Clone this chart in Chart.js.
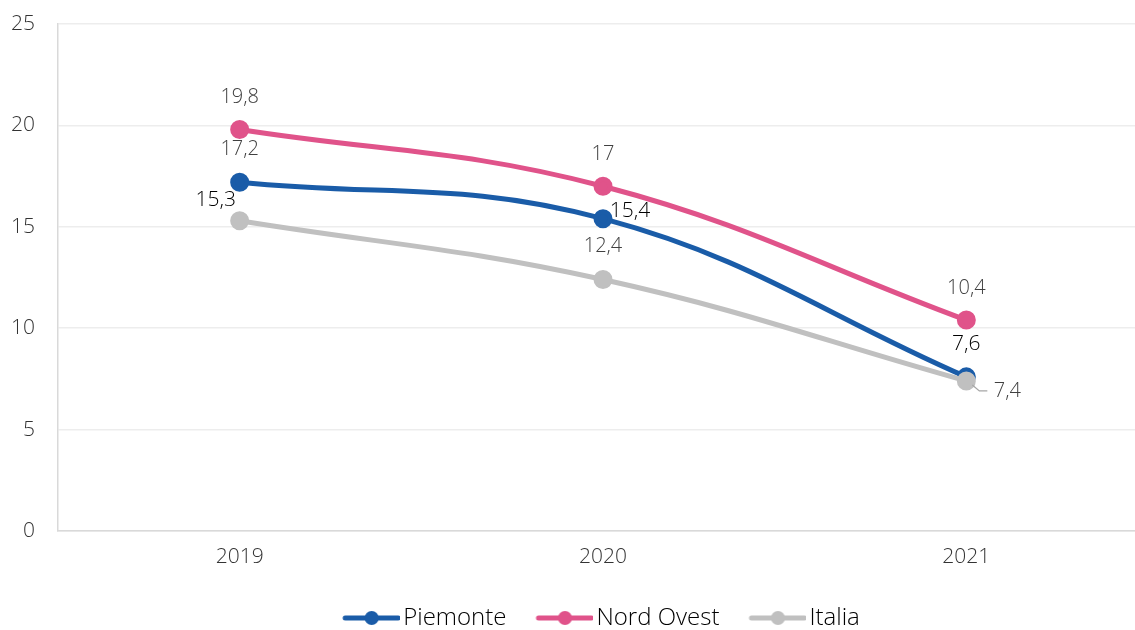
<!DOCTYPE html>
<html>
<head>
<meta charset="utf-8">
<script src="https://cdn.jsdelivr.net/npm/chart.js@4"></script>
<style>
  html, body { margin: 0; padding: 0; background: #fff; overflow: hidden; }
  #wrap { position: relative; width: 1200px; height: 630px; }
</style>
</head>
<body>
<div id="wrap"><canvas id="lineChart"></canvas></div>
<script>
const years = ["2019", "2020", "2021"];
const piemonte = [17.2, 15.4, 7.6];
const nordOvest = [19.8, 17, 10.4];
const italia = [15.3, 12.4, 7.4];
const yTicks = [0, 5, 10, 15, 20, 25];

// label placement per series/point: [dx, dy]
const labelPos = {
  "Piemonte":   [[0, -33], [27, -8], [0, -33]],
  "Nord Ovest": [[0, -32], [0, -32], [0, -32]],
  "Italia":     [[-24, -21], [0, -33], [41, 10]]
};
// manually placed labels are darker and a touch larger
const labelColor = {
  "Piemonte":   ["#404040", "#000", "#000"],
  "Nord Ovest": ["#404040", "#404040", "#404040"],
  "Italia":     ["#000", "#404040", "#404040"]
};

const FONT = "'Open Sans', sans-serif";

// legend marker: line with a dot, shifted so the text sits close to the line end
function legendIcon(color) {
  const c = document.createElement("canvas");
  c.width = 63; c.height = 16;
  const g = c.getContext("2d");
  g.strokeStyle = color; g.lineWidth = 5; g.lineCap = "round";
  g.beginPath(); g.moveTo(8, 8); g.lineTo(61, 8); g.stroke();
  g.fillStyle = color;
  g.beginPath(); g.arc(34.5, 8, 7, 0, Math.PI * 2); g.fill();
  return c;
}

const valueLabels = {
  id: "valueLabels",
  afterDatasetsDraw(chart) {
    const ctx = chart.ctx;
    ctx.save();
    ctx.textBaseline = "middle";
    ctx.textAlign = "center";
    chart.data.datasets.forEach((ds, i) => {
      const meta = chart.getDatasetMeta(i);
      meta.data.forEach((pt, j) => {
        const [dx, dy] = labelPos[ds.label][j];
        const col = labelColor[ds.label][j];
        const txt = String(ds.data[j]).replace(".", ",");
        ctx.font = (col === "#000" ? "300 21px " : "300 20px ") + FONT;
        ctx.fillStyle = col;
        ctx.fillText(txt, pt.x + dx, pt.y + dy);
        if (ds.label === "Italia" && j === 2) {
          // leader line to the shifted label
          ctx.strokeStyle = "#a6a6a6"; ctx.lineWidth = 1.2;
          ctx.beginPath();
          ctx.moveTo(pt.x + 6, pt.y + 4);
          ctx.lineTo(pt.x + 13, pt.y + 10);
          ctx.lineTo(pt.x + 21, pt.y + 10);
          ctx.stroke();
        }
      });
    });
    ctx.restore();
  }
};

function series(label, data, color) {
  return {
    label, data,
    borderColor: color, backgroundColor: color,
    pointBackgroundColor: color, pointBorderColor: color,
    borderWidth: 5, pointRadius: 7, pointHoverRadius: 7,
    pointStyle: "circle",
    tension: 0.4, fill: false
  };
}

new Chart(document.getElementById("lineChart"), {
  type: "line",
  data: {
    labels: years,
    datasets: [
      series("Italia", italia, "#c0c0c0"),
      series("Nord Ovest", nordOvest, "#e0538a"),
      series("Piemonte", piemonte, "#1a5ca8")
    ]
  },
  options: {
    responsive: true, maintainAspectRatio: false, animation: false,
    layout: { padding: { left: 0, right: 52, top: 24, bottom: -10 } },
    scales: {
      x: {
        offset: true,
        grid: { display: false, drawTicks: false },
        border: { color: "#d9d9d9", width: 1.5 },
        ticks: { color: "#333", font: { family: FONT, size: 21, weight: 300 }, padding: 13 },
        afterFit: axis => { axis.height = 42; }
      },
      y: {
        min: 0, max: 25,
        afterBuildTicks: axis => { axis.ticks = yTicks.map(v => ({ value: v })); },
        grid: { color: "#ededed", lineWidth: 1.5, drawTicks: false },
        border: { color: "#d9d9d9", width: 1.5 },
        ticks: { color: "#333", font: { family: FONT, size: 21, weight: 300 }, padding: 23 },
        afterFit: axis => { axis.width = 58; axis.paddingTop = 0; axis.paddingBottom = 0; }
      }
    },
    plugins: {
      tooltip: { enabled: false },
      legend: {
        position: "bottom",
        fullSize: false,
        reverse: true,
        labels: {
          usePointStyle: true,
          pointStyleWidth: 45,
          color: "#262626",
          font: { family: FONT, size: 24, weight: 300 },
          padding: 33,
          generateLabels(chart) {
            return chart.data.datasets.map((ds, i) => ({
              text: ds.label,
              pointStyle: legendIcon(ds.borderColor),
              fillStyle: ds.borderColor,
              strokeStyle: ds.borderColor,
              lineWidth: 0,
              datasetIndex: i,
              hidden: false
            }));
          }
        }
      }
    }
  },
  plugins: [valueLabels]
});
</script>
</body>
</html>
